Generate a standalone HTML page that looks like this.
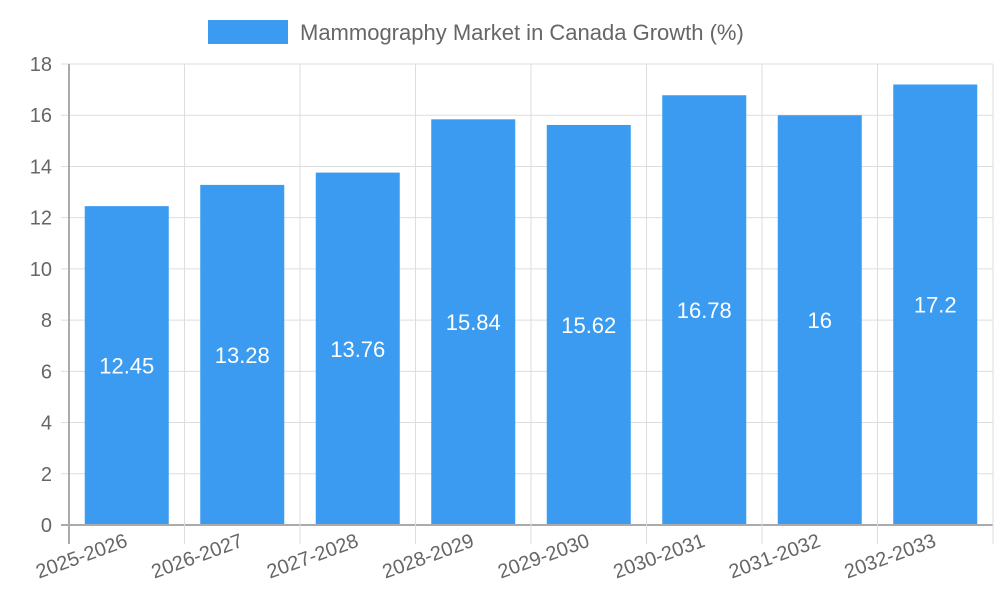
<!DOCTYPE html>
<html><head><meta charset="utf-8"><style>body{margin:0;background:#fff}svg{display:block;font-family:"Liberation Sans",sans-serif}</style></head>
<body>
<svg id="c" width="1000" height="600">
<g>
<rect x="208" y="20" width="80" height="24" fill="#3a9bf0"/>
<text x="300" y="40" font-size="22" fill="#666">Mammography Market in Canada Growth (%)</text>
</g>
</svg>
<script>
const categories=["2025-2026","2026-2027","2027-2028","2028-2029","2029-2030","2030-2031","2031-2032","2032-2033"];
const values=[12.45,13.28,13.76,15.84,15.62,16.78,16,17.2];
const labels=["12.45","13.28","13.76","15.84","15.62","16.78","16","17.2"];
const yTicks=[0,2,4,6,8,10,12,14,16,18];
const svg=document.getElementById('c');const NS='http://www.w3.org/2000/svg';
const L=69,R=993,T=64,B=525,yMax=18;
const cw=(R-L)/categories.length;
const y=v=>B-(v/yMax)*(B-T);const x=i=>L+i*cw;
function mk(t,a,p){const e=document.createElementNS(NS,t);for(const k in a)e.setAttribute(k,a[k]);(p||svg).appendChild(e);return e;}
yTicks.forEach(t=>{
 const g=mk('line',{x1:L-8,x2:R,y1:y(t),y2:y(t),stroke:t===0?'#aaa':'#ddd','stroke-width':t===0?2:1});
 
 
 const tx=mk('text',{x:L-17,y:y(t)+7,'text-anchor':'end','font-size':20,fill:'#666'});tx.textContent=t;
 
 
});
for(let i=0;i<=categories.length;i++){
 const g=mk('line',{x1:x(i),x2:x(i),y1:T,y2:B+19,stroke:i===0?'#aaa':'#ddd','stroke-width':i===0?2:1});
 
 
}
categories.forEach((c,i)=>{
 const cx=x(i)+cw/2,bw=84;
 const r=mk('rect',{x:cx-bw/2,y:y(values[i]),width:bw,height:B-y(values[i])-1,fill:'#3a9bf0'});
 
 
 const v=mk('text',{x:cx,y:(y(values[i])+B)/2+8,'text-anchor':'middle','font-size':22,fill:'#fff'});v.textContent=labels[i];
 
 
 const t=mk('text',{x:cx+2,y:546,'text-anchor':'end','font-size':20,fill:'#666',transform:`rotate(-20 ${cx+2} 546)`});t.textContent=c;
 
 
});
</script>
</body></html>
